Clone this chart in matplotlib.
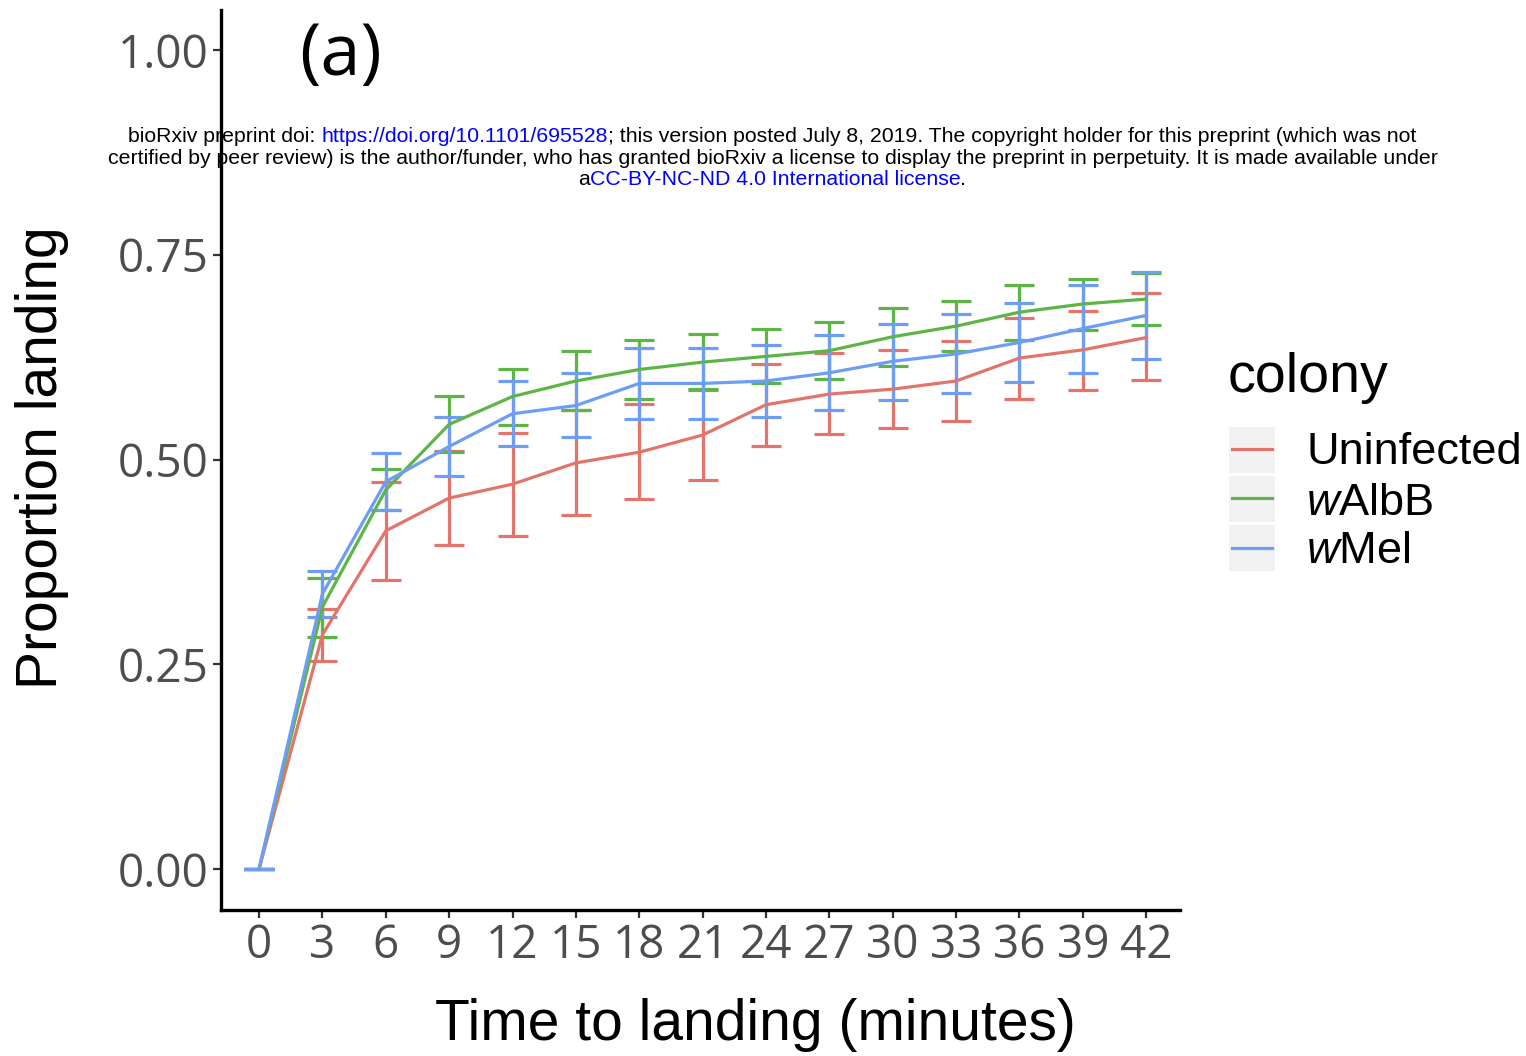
import matplotlib
matplotlib.use("Agg")
import matplotlib.pyplot as plt
from matplotlib.patches import Rectangle
from matplotlib.lines import Line2D

plt.rcParams['mathtext.fontset'] = 'custom'
plt.rcParams['mathtext.rm'] = 'Liberation Sans'
plt.rcParams['mathtext.it'] = 'Liberation Sans:italic'

# ---------------- data ----------------
times = [0, 3, 6, 9, 12, 15, 18, 21, 24, 27, 30, 33, 36, 39, 42]
tick_labels = [str(t) for t in times]
y_ticks = [0.00, 0.25, 0.50, 0.75, 1.00]
y_tick_labels = ["0.00", "0.25", "0.50", "0.75", "1.00"]

uninf_mean = [0, 0.286, 0.413, 0.453, 0.470, 0.496, 0.509, 0.530, 0.567, 0.580, 0.586, 0.596, 0.624, 0.634, 0.649]
uninf_low = [0, 0.254, 0.353, 0.396, 0.407, 0.432, 0.452, 0.475, 0.516, 0.531, 0.539, 0.547, 0.574, 0.585, 0.597]
uninf_high = [0, 0.317, 0.473, 0.511, 0.533, 0.560, 0.568, 0.585, 0.617, 0.630, 0.634, 0.645, 0.673, 0.681, 0.703]

walbb_mean = [0, 0.320, 0.463, 0.543, 0.577, 0.596, 0.610, 0.619, 0.626, 0.633, 0.650, 0.663, 0.680, 0.690, 0.696]
walbb_low = [0, 0.283, 0.438, 0.509, 0.542, 0.561, 0.574, 0.586, 0.593, 0.599, 0.614, 0.632, 0.646, 0.658, 0.664]
walbb_high = [0, 0.356, 0.488, 0.578, 0.611, 0.632, 0.646, 0.653, 0.660, 0.668, 0.685, 0.694, 0.713, 0.721, 0.728]

wmel_mean = [0, 0.336, 0.473, 0.516, 0.556, 0.566, 0.593, 0.593, 0.596, 0.606, 0.620, 0.629, 0.643, 0.660, 0.676]
wmel_low = [0, 0.308, 0.438, 0.480, 0.517, 0.527, 0.550, 0.550, 0.552, 0.560, 0.573, 0.581, 0.595, 0.606, 0.623]
wmel_high = [0, 0.364, 0.508, 0.552, 0.596, 0.606, 0.636, 0.636, 0.640, 0.652, 0.666, 0.678, 0.691, 0.713, 0.729]

series_names = ["Uninfected", r"$\it{w}$AlbB", r"$\it{w}$Mel"]
colors = ["#E3746B", "#5DB547", "#6E9DF6"]

# ---------------- figure ----------------
W, H = 1526, 1056
fig = plt.figure(figsize=(W / 100, H / 100), dpi=100)
ax = fig.add_axes([221 / W, 1 - 910 / H, (1180 - 221) / W, (910 - 10) / H])

series = [(uninf_mean, uninf_low, uninf_high),
          (walbb_mean, walbb_low, walbb_high),
          (wmel_mean, wmel_low, wmel_high)]

for (m, lo, hi), c in zip(series, colors):
    yerr = [[mi - l for mi, l in zip(m, lo)], [h - mi for mi, h in zip(m, hi)]]
    ax.errorbar(times, m, yerr=yerr, color=c, lw=2.3, elinewidth=2.3,
                capsize=10.8, capthick=2.3)

ax.set_xlim(-1.8, 43.6)
ax.set_ylim(-0.05, 1.049)
ax.set_xticks(times)
ax.set_xticklabels(tick_labels)
ax.set_yticks(y_ticks)
ax.set_yticklabels(y_tick_labels)
for lab in ax.get_xticklabels() + ax.get_yticklabels():
    lab.set_fontfamily("Open Sans")
    lab.set_fontsize(33)
    lab.set_color("#4D4D4D")
ax.tick_params(axis='both', length=6, width=1.6, color="#333333")
ax.tick_params(axis='x', pad=3)
ax.tick_params(axis='y', pad=3)
for s in ["top", "right"]:
    ax.spines[s].set_visible(False)
for s in ["left", "bottom"]:
    ax.spines[s].set_linewidth(2.4)
    ax.spines[s].set_color("black")

# axis titles
fig.text(755 / W, 1 - 1040 / H, "Time to landing (minutes)", family="Liberation Sans",
         fontsize=41, ha="center", va="baseline")
fig.text(42 / W, 1 - 458 / H, "Proportion landing", family="Liberation Sans",
         fontsize=41, ha="center", va="center", rotation=90)

# panel label
fig.text(340 / W, 1 - 56 / H, "(a)", family="Open Sans", fontsize=52,
         ha="center", va="center")

# legend
fig.text(1228 / W, 1 - 392 / H, "colony", family="Liberation Sans", fontsize=40,
         ha="left", va="baseline")
box_tops = [427, 476, 525]
line_ys = [449, 498, 548]
label_bases = [464, 515, 563]
for bt, ly, lb, name, c in zip(box_tops, line_ys, label_bases, series_names, colors):
    fig.patches.append(Rectangle((1229 / W, 1 - (bt + 46) / H), 46 / W, 46 / H,
                                 transform=fig.transFigure, facecolor="#F2F2F2",
                                 edgecolor="none"))
    fig.lines.append(Line2D([1232 / W, 1272 / W], [1 - ly / H, 1 - ly / H],
                            transform=fig.transFigure, color=c, lw=2.3))
    fig.text(1306 / W, 1 - lb / H, name, family="Liberation Sans", fontsize=32.5,
             ha="left", va="baseline")

# bioRxiv header
fs = 15.3
y1, y2, y3 = 1 - 142 / H, 1 - 164 / H, 1 - 185 / H
t_a = "bioRxiv preprint doi: "
t_b = "https://doi.org/10.1101/695528"
t_c = "; this version posted July 8, 2019. The copyright holder for this preprint (which was not"
fig.canvas.draw()
renderer = fig.canvas.get_renderer()

def width_px(s):
    t = fig.text(0, 0, s, family="Liberation Sans", fontsize=fs)
    w = t.get_window_extent(renderer).width
    t.remove()
    return w

wa, wb, wc = width_px(t_a), width_px(t_b), width_px(t_c)
x0 = 772 - (wa + wb + wc) / 2
fig.text(x0 / W, y1, t_a, family="Liberation Sans", fontsize=fs, ha="left", va="baseline")
fig.text((x0 + wa) / W, y1, t_b, family="Liberation Sans", fontsize=fs, ha="left", va="baseline", color="blue")
fig.text((x0 + wa + wb) / W, y1, t_c, family="Liberation Sans", fontsize=fs, ha="left", va="baseline")

fig.text(773 / W, y2, "certified by peer review) is the author/funder, who has granted bioRxiv a license to display the preprint in perpetuity. It is made available under",
         family="Liberation Sans", fontsize=fs, ha="center", va="baseline")

s_a = "a"
s_b = "CC-BY-NC-ND 4.0 International license"
s_c = "."
wa3, wb3, wc3 = width_px(s_a), width_px(s_b), width_px(s_c)
x3 = 772 - (wa3 + wb3 + wc3) / 2
fig.text(x3 / W, y3, s_a, family="Liberation Sans", fontsize=fs, ha="left", va="baseline")
fig.text((x3 + wa3) / W, y3, s_b, family="Liberation Sans", fontsize=fs, ha="left", va="baseline", color="blue")
fig.text((x3 + wa3 + wb3) / W, y3, s_c, family="Liberation Sans", fontsize=fs, ha="left", va="baseline")

fig.savefig("out.png", dpi=100)
